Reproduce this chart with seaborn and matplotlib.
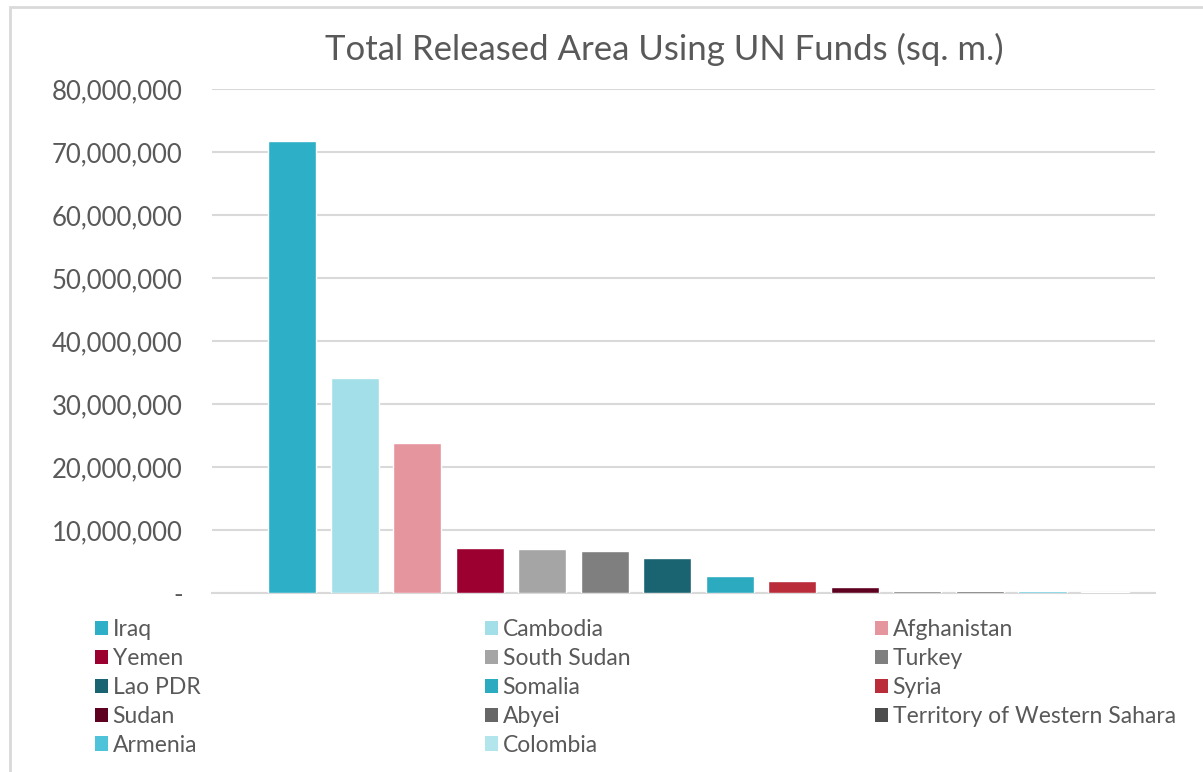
import pandas as pd
import seaborn as sns
import matplotlib.pyplot as plt
from matplotlib.patches import Patch, Rectangle
from matplotlib.ticker import FuncFormatter

countries = ['Iraq', 'Cambodia', 'Afghanistan', 'Yemen', 'South Sudan', 'Turkey',
             'Lao PDR', 'Somalia', 'Syria', 'Sudan', 'Abyei',
             'Territory of Western Sahara', 'Armenia', 'Colombia']
released_area = [71_700_000, 34_100_000, 23_800_000, 7_100_000, 7_050_000, 6_700_000,
                 5_600_000, 2_650_000, 1_900_000, 950_000, 320_000,
                 300_000, 240_000, 180_000]
bar_colors = ['#2CAFC7', '#A2DFE8', '#E5959E', '#9B0031', '#A5A5A5', '#7F7F7F',
              '#1A6472', '#2CAABF', '#BA2C3A', '#5E0020', '#666666',
              '#4D4D4D', '#4FC3DA', '#B3E5EC']

df = pd.DataFrame({'country': countries, 'area': released_area})
palette = dict(zip(countries, bar_colors))

sns.set_style('white')
plt.rcParams['font.family'] = ['Lato', 'DejaVu Sans']
text_color = '#595959'
grid_color = '#D9D9D9'

fig = plt.figure(figsize=(12.03, 7.72), dpi=100)
ax = fig.add_axes([212 / 1203, 1 - 593 / 772, (1155 - 212) / 1203, (593 - 89) / 772])

sns.barplot(data=df, x='country', y='area', hue='country', palette=palette,
            order=countries, width=0.77, legend=False, ax=ax, saturation=1)
for bar in ax.patches:
    bar.set_zorder(3)

ax.set_ylim(0, 80_000_000)
ax.set_xlim(-1.28, 13.8)
ax.set_yticks(range(0, 80_000_001, 10_000_000))
ax.yaxis.set_major_formatter(FuncFormatter(lambda v, p: '-' if v == 0 else f'{int(v):,}'))
ax.set_xticks([])
ax.set_xlabel('')
ax.set_ylabel('')
ax.tick_params(axis='y', length=0, pad=21, labelsize=18.5, labelcolor=text_color)
ax.yaxis.grid(True, color=grid_color, linewidth=1.5)
ax.set_axisbelow(True)
for side in ['top', 'right', 'left']:
    ax.spines[side].set_visible(False)
ax.spines['bottom'].set_color(grid_color)
ax.spines['bottom'].set_linewidth(1.5)

fig.text(0.552, 1 - 49 / 772, 'Total Released Area Using UN Funds (sq. m.)',
         ha='center', va='center', fontsize=25, color=text_color)

# legend laid out row-wise like the original, three columns
handles = [Patch(facecolor=c, edgecolor='none') for c in bar_colors]
col_x = [95 / 1203, 485 / 1203, 875 / 1203]
for i, x0 in enumerate(col_x):
    idx = list(range(i, len(countries), 3))
    fig.legend([handles[j] for j in idx], [countries[j] for j in idx],
               loc='upper left', bbox_to_anchor=(x0, 1 - 619 / 772), ncol=1,
               frameon=False, fontsize=16.5, labelcolor=text_color,
               handlelength=0.57, handleheight=0.57, handletextpad=0.2,
               labelspacing=0.345, borderpad=0, borderaxespad=0)

fig.patches.append(Rectangle((10 / 1203, -0.02), 1.0, 1.02 - 7 / 772, transform=fig.transFigure,
                             fill=False, edgecolor=grid_color, linewidth=2))

fig.savefig('out.png', dpi=100)
